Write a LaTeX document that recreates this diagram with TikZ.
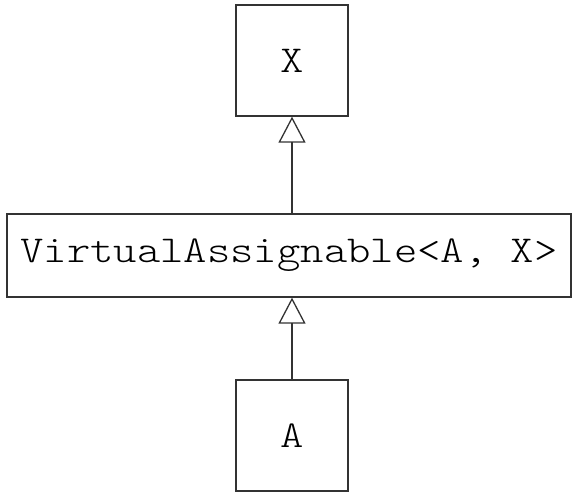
\documentclass[tikz,border=0pt]{standalone}
\usepackage{fontspec}
\newfontfamily\umlfont{lmmonolt10-regular.otf}[FakeStretch=1.17]
\usetikzlibrary{arrows.meta}
\begin{document}
\begin{tikzpicture}[x=1pt, y=-1pt, line width=1.3pt, draw=black!80, class node/.style={rectangle,draw,inner sep=0pt,font=\umlfont\fontsize{38}{40}\selectfont}, inherit/.style={-{Triangle[open,length=26pt,width=27pt]}}]%
\useasboundingbox (0,0) rectangle (572,492);
\begin{scope}
\node[class node, minimum width=112pt, minimum height=111pt] (cx) at (292,60.5) {X};
\node[class node, minimum width=564pt, minimum height=83pt] (cva) at (289,255.5) {VirtualAssignable<A, X>};
\node[class node, minimum width=112pt, minimum height=111pt] (ca) at (292,435.5) {A};
\end{scope}
\begin{scope}
\draw[inherit]  (cva.north -| cx.south) -- (cx.south);
\draw[inherit]  (ca.north) -- (cva.south -| ca.north);
\end{scope}
\end{tikzpicture}
\end{document}
